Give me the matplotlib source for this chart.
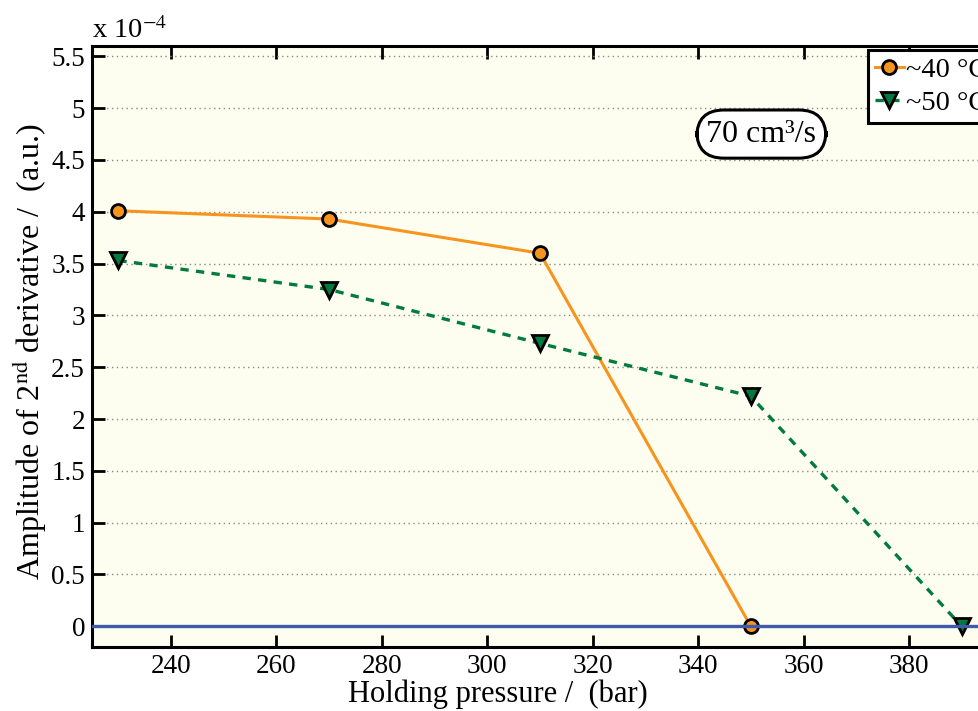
import numpy as np
import matplotlib.pyplot as plt
from matplotlib.ticker import FormatStrFormatter

plt.rcParams['font.family'] = ['Liberation Serif', 'DejaVu Serif']
plt.rcParams['mathtext.fontset'] = 'stix'

# holding pressure (bar) and amplitude in units of 1e-4
p_40 = [230, 270, 310, 350]
amp_40 = [4.01, 3.93, 3.60, 0.0]
p_50 = [230, 270, 310, 350, 390]
amp_50 = [3.53, 3.25, 2.73, 2.22, 0.0]
yticks = np.arange(0, 5.51, 0.5)
xticks = [240, 260, 280, 300, 320, 340, 360, 380]

W, H = 979, 711
fig = plt.figure(figsize=(W / 100, H / 100), dpi=100)
# right edge of the axes runs past the figure border
ax = fig.add_axes([92 / W, 1 - 647 / H, 896 / W, 601 / H])
ax.set_facecolor('#fdfdf0')

ax.plot(p_40, amp_40, '-o', color='#f7941d', lw=2.2, ms=10,
        mfc='#f7941d', mec='black', mew=2, label='~40 °C', zorder=3)
ax.plot(p_50, amp_50, '--v', color='#007a3d', lw=2.4, ms=11,
        mfc='#007a3d', mec='black', mew=2, dashes=(2.5, 2.2),
        label='~50 °C', zorder=3)
ax.axhline(0, color='#3f5aa8', lw=2.4, zorder=4)

ax.set_xlim(225, 395)
ax.set_ylim(-0.2, 5.6)
ax.set_xticks(xticks)
ax.set_yticks(yticks)
ax.yaxis.set_major_formatter(FormatStrFormatter('%g'))
ax.grid(axis='y', ls=(0, (1, 2.5)), color='#8a8a8a', lw=1)
ax.tick_params(direction='in', length=9, width=2, labelsize=19.5,
               top=True, right=False, pad=5)
for s in ax.spines.values():
    s.set_linewidth(2.2)

fig.text(498 / W, 1 - 694 / H, 'Holding pressure /  (bar)', fontsize=22,
         ha='center', va='center')
fig.text(30 / W, 1 - 352 / H,
         'Amplitude of 2$^{\\mathrm{nd}}$ derivative /  (a.u.)',
         fontsize=23, rotation=90, ha='center', va='center')
ax.text(0.0, 1.004, 'x 10$^{-4}$', transform=ax.transAxes, fontsize=20.5,
        va='bottom', ha='left')

ax.text(352, 4.75, '70 cm³/s', fontsize=23, ha='center', va='center',
        bbox=dict(boxstyle='round,pad=0.3,rounding_size=0.85', fc='white',
                  ec='black', lw=2.2))

leg = ax.legend(loc='upper left', bbox_to_anchor=(868 / W, 1 - 50 / H),
                bbox_transform=fig.transFigure, fontsize=20.5, frameon=True,
                fancybox=False, handlelength=1.0, handletextpad=0.1,
                borderpad=0.25, labelspacing=0.25, borderaxespad=0)
leg.get_frame().set_edgecolor('black')
leg.get_frame().set_linewidth(2.2)
leg.get_frame().set_facecolor('white')
leg.get_frame().set_alpha(1)

fig.savefig('out.png', dpi=100)
